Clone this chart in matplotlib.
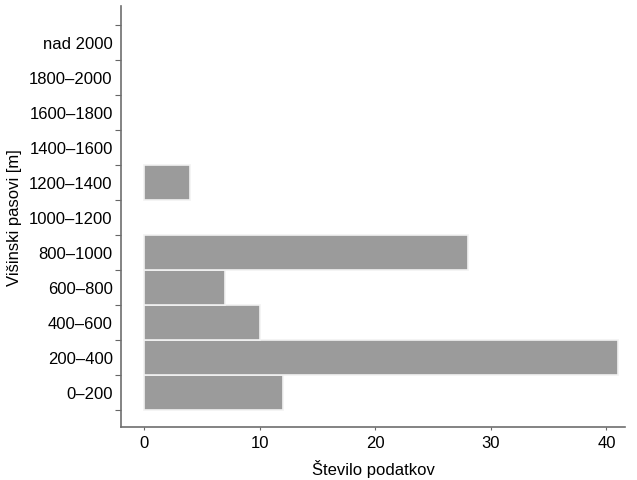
import matplotlib
matplotlib.use("Agg")
import matplotlib.pyplot as plt
import numpy as np

plt.rcParams['font.family'] = ['Liberation Sans', 'DejaVu Sans']

# vişinski pasovi in število podatkov
pasovi = ['0–200', '200–400', '400–600', '600–800', '800–1000', '1000–1200',
          '1200–1400', '1400–1600', '1600–1800', '1800–2000', 'nad 2000']
stevilo = [12, 41, 10, 7, 28, 0, 4, 0, 0, 0, 0]
xticks = [0, 10, 20, 30, 40]

fig = plt.figure(figsize=(6.37, 4.81), dpi=100)
ax = fig.add_axes([0.19, 0.110, 0.791, 0.875])

y = np.arange(len(pasovi))
robovi = ['#f2f2f2' if v > 0 else 'none' for v in stevilo]
ax.barh(y, stevilo, height=1.0, color='#9b9b9b', edgecolor=robovi, linewidth=1.2)

ax.set_xlim(-2, 41.6)
ax.set_ylim(-1, 11.03)
ax.set_yticks(y)
ax.set_yticklabels(pasovi)
ax.set_yticks(np.arange(-0.5, len(pasovi), 1), minor=True)
ax.set_xticks(xticks)

ax.tick_params(axis='y', which='major', length=0, pad=6, labelsize=12)
ax.tick_params(axis='y', which='minor', length=4, width=0.8, color='#666666')
ax.tick_params(axis='x', length=2, width=0.8, color='#666666', pad=4, labelsize=12)

for s in ['top', 'right']:
    ax.spines[s].set_visible(False)
for s in ['left', 'bottom']:
    ax.spines[s].set_color('#6e6e6e')
    ax.spines[s].set_linewidth(1.2)

ax.set_xlabel('Število podatkov', fontsize=12, labelpad=6)
ax.set_ylabel('Višinski pasovi [m]', fontsize=12, labelpad=5)

fig.savefig('out.png', dpi=100)
